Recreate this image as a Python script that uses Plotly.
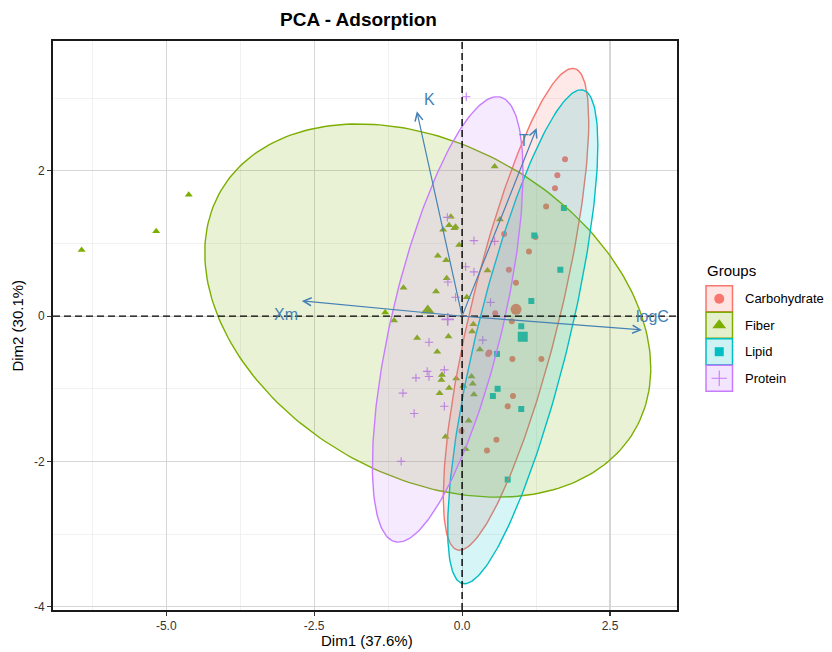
import numpy as np
import plotly.graph_objects as go

# ---------------- data ----------------
groups = ["Carbohydrate", "Fiber", "Lipid", "Protein"]
group_colors = ["#F8766D", "#7CAE00", "#00BFC4", "#C77CFF"]
group_symbols = ["circle", "triangle-up", "square", "cross-thin"]

carb_x = [1.74, 1.61, 1.57, 1.42, 0.71, 1.24, 1.13, 0.79, 0.91, 0.56, 0.84, 0.46, 0.44,
          0.85, 1.34, 0.86, 0.77, 0.58, 0.42, -0.01]
carb_y = [2.16, 1.94, 1.76, 1.51, 1.13, 1.09, 0.89, 0.64, 0.46, 0.04, -0.07, -0.50, -0.52,
          -0.59, -0.59, -1.10, -1.24, -1.70, -1.85, -1.58]

fiber_x = [-6.43, -5.17, -4.62, 0.55, -0.19, -0.22, -0.11, -0.13, -0.32, -0.05, -0.41, -0.27,
           -0.26, 0.64, 0.43, -0.99, -0.44, 0.08, -1.30, -1.15, 0.19, 0.17, -0.23, -0.76,
           -0.42, 0.30, -0.34, -0.35, -0.10, -0.22, -0.38, 0.16, 0.18, 0.02, 0.20, 0.11,
           -0.28, 0.06]
fiber_y = [0.91, 1.17, 1.67, 2.06, 1.37, 1.25, 1.23, 1.21, 1.19, 0.98, 0.83, 0.77,
           0.52, 1.33, 0.63, 0.39, 0.34, 0.26, 0.05, -0.06, -0.11, -0.21, -0.28, -0.30,
           -0.49, -0.46, -0.81, -0.88, -0.86, -0.99, -1.06, -0.83, -0.93, -0.96, -1.08, -1.44,
           -1.66, -1.83]

lipid_x = [1.72, 1.22, 1.66, 1.17, 1.00, 0.59, 0.60, 0.52, 1.00, 0.77]
lipid_y = [1.49, 1.11, 0.64, 0.21, -0.14, -0.52, -1.00, -1.10, -1.28, -2.25]

protein_x = [0.07, -0.25, 0.20, 0.55, 0.06, 0.20, -0.24, -0.11, 0.48, -0.56, 0.35, -0.59,
             -0.56, -0.78, -0.30, -1.00, -0.30, -0.81, -1.03]
protein_y = [3.02, 1.36, 1.04, 1.03, 0.68, 0.61, 0.47, 0.26, 0.19, -0.36, -0.33, -0.76,
             -0.83, -0.85, -0.74, -1.06, -1.24, -1.34, -2.00]

# concentration-ellipse covariance terms (already scaled to the 95% level)
ellipse_sxx = [1.51, 14.2, 1.61, 1.62]
ellipse_syy = [11.0, 6.6, 11.56, 9.4]
ellipse_sxy = [3.17, -3.0, 3.35, 2.56]

# variable arrows (biplot loadings, scaled)
var_names = ["K", "T", "Xm", "logC"]
var_x = [-0.765, 1.26, -2.71, 3.04]
var_y = [2.82, 2.59, 0.21, -0.19]
var_label_x = [-0.55, 1.04, -2.97, 3.21]
var_label_y = [2.98, 2.42, 0.02, 0.0]

x_tickvals = [-5.0, -2.5, 0.0, 2.5]
x_ticktext = ["-5.0", "-2.5", "0.0", "2.5"]
y_tickvals = [-4, -2, 0, 2]
y_ticktext = ["-4", "-2", "0", "2"]

title_text = "PCA - Adsorption"
x_title = "Dim1 (37.6%)"
y_title = "Dim2 (30.1%)"
legend_title = "Groups"

xs = [carb_x, fiber_x, lipid_x, protein_x]
ys = [carb_y, fiber_y, lipid_y, protein_y]

# ---------------- layout helpers ----------------
W, H = 832, 652
ML, MR, MT, MB = 53, 0, 41, 42
PW, PH = W - ML - MR, H - MT - MB
PANEL_RIGHT = 676.7


def px(xp):
    return (xp - ML) / PW


def py(yp):
    return (H - MB - yp) / PH


def rgba(hexc, a):
    h = hexc.lstrip("#")
    r, g, b = int(h[0:2], 16), int(h[2:4], 16), int(h[4:6], 16)
    return f"rgba({r},{g},{b},{a})"


FONT = "Liberation Sans, Arial, sans-serif"
ARROW_COL = "#4682B4"

fig = go.Figure()

pt_sizes = [6, 7, 6, 6]
mean_sizes = [11, 12, 10, 9]

# points (under ellipse fills)
for g, c, s, x, y, ps in zip(groups, group_colors, group_symbols, xs, ys, pt_sizes):
    lw = 1.1 if s == "cross-thin" else 0
    fig.add_trace(go.Scatter(
        x=x, y=y, mode="markers", name=g, showlegend=False,
        marker=dict(symbol=s, size=ps, color=c, line=dict(width=lw, color=c)),
        hoverinfo="skip"))

# group means
for g, c, s, x, y, ms in zip(groups, group_colors, group_symbols, xs, ys, mean_sizes):
    lw = 1.6 if s == "cross-thin" else 0
    fig.add_trace(go.Scatter(
        x=[float(np.mean(x))], y=[float(np.mean(y))], mode="markers", showlegend=False,
        marker=dict(symbol=s, size=ms, color=c, line=dict(width=lw, color=c)),
        hoverinfo="skip"))

# ellipses
t = np.linspace(0, 2 * np.pi, 240)
for g, c, x, y, sxx, syy, sxy in zip(groups, group_colors, xs, ys,
                                      ellipse_sxx, ellipse_syy, ellipse_sxy):
    cov = np.array([[sxx, sxy], [sxy, syy]])
    L = np.linalg.cholesky(cov)
    pts = L @ np.vstack([np.cos(t), np.sin(t)])
    ex = pts[0] + np.mean(x)
    ey = pts[1] + np.mean(y)
    fig.add_trace(go.Scatter(
        x=ex, y=ey, mode="lines", fill="toself", showlegend=False,
        fillcolor=rgba(c, 0.16), line=dict(color=c, width=1.4), hoverinfo="skip"))

# variable arrows
annotations = []
for n, vx, vy, lx, ly in zip(var_names, var_x, var_y, var_label_x, var_label_y):
    annotations.append(dict(
        x=vx, y=vy, ax=0, ay=0, xref="x", yref="y", axref="x", ayref="y",
        text="", showarrow=True, arrowhead=5, arrowsize=1.3, arrowwidth=1.2,
        arrowcolor=ARROW_COL, standoff=0, startstandoff=0))
    annotations.append(dict(
        x=lx, y=ly, xref="x", yref="y", text=n, showarrow=False,
        font=dict(family=FONT, size=16, color=ARROW_COL),
        xanchor="center", yanchor="middle"))

# title and axis titles
annotations.append(dict(x=px(358), y=py(20), xref="paper", yref="paper", text=f"<b>{title_text}</b>",
                        showarrow=False, font=dict(family=FONT, size=19, color="black"),
                        xanchor="center", yanchor="middle"))
annotations.append(dict(x=px(367), y=py(640), xref="paper", yref="paper", text=x_title,
                        showarrow=False, font=dict(family=FONT, size=15, color="black"),
                        xanchor="center", yanchor="middle"))
annotations.append(dict(x=px(18), y=py(325.6), xref="paper", yref="paper", text=y_title,
                        showarrow=False, textangle=-90,
                        font=dict(family=FONT, size=15, color="black"),
                        xanchor="center", yanchor="middle"))

# manual legend
annotations.append(dict(x=px(705), y=py(270), xref="paper", yref="paper", text=legend_title,
                        showarrow=False, font=dict(family=FONT, size=15, color="black"),
                        xanchor="left", yanchor="middle"))
shapes = []
box_x0, box_x1 = 706, 732.5
leg_marker_sizes = [10, 12, 9, 11]
leg_x, leg_y = [], []
for i, (g, c) in enumerate(zip(groups, group_colors)):
    top = 285.7 + i * 26.5
    bot = top + 26
    shapes.append(dict(type="rect", xref="paper", yref="paper",
                       x0=px(box_x0), x1=px(box_x1), y0=py(bot), y1=py(top),
                       fillcolor=rgba(c, 0.2), line=dict(color=c, width=1.5), layer="above"))
    annotations.append(dict(x=px(743), y=py((top + bot) / 2), xref="paper", yref="paper",
                            text=g, showarrow=False,
                            font=dict(family=FONT, size=13, color="black"),
                            xanchor="left", yanchor="middle"))
    leg_x.append(px((box_x0 + box_x1) / 2))
    leg_y.append(py((top + bot) / 2))

for i, (c, s, ms) in enumerate(zip(group_colors, group_symbols, leg_marker_sizes)):
    lw = 1.1 if s == "cross-thin" else 0
    fig.add_trace(go.Scatter(
        x=[leg_x[i]], y=[leg_y[i]], xaxis="x2", yaxis="y2", mode="markers",
        showlegend=False, hoverinfo="skip",
        marker=dict(symbol=s, size=ms, color=c, line=dict(width=lw, color=c))))

# dashed reference lines
shapes.append(dict(type="line", xref="x", yref="y domain", x0=0, x1=0, y0=0, y1=1,
                   line=dict(color="black", width=1.4, dash="7px,4px"), layer="above"))
shapes.append(dict(type="line", xref="x domain", yref="y", x0=0, x1=1, y0=0, y1=0,
                   line=dict(color="black", width=1.4, dash="7px,4px"), layer="above"))

x_range = [(52.7 - 462) / 59.2, (PANEL_RIGHT - 462) / 59.2]
y_range = [(316.3 - 610) / 72.6, (316.3 - 41.3) / 72.6]

axis_common = dict(
    showline=True, linecolor="#1a1a1a", linewidth=2, mirror=True,
    ticks="outside", ticklen=4, tickwidth=1.2, tickcolor="#333333",
    tickfont=dict(family=FONT, size=12, color="#333333"),
    showgrid=True, gridcolor="#d6d6d6", gridwidth=1.1, zeroline=False,
)

fig.update_layout(
    width=W, height=H,
    margin=dict(l=ML, r=MR, t=MT, b=MB, autoexpand=False),
    paper_bgcolor="white", plot_bgcolor="rgba(0,0,0,0)",
    showlegend=False,
    xaxis=dict(domain=[0, px(PANEL_RIGHT)], range=x_range, tickvals=x_tickvals,
               ticktext=x_ticktext,
               minor=dict(dtick=1.25, tick0=0, showgrid=True, gridcolor="#eeeeee",
                          gridwidth=0.8, ticks=""),
               **axis_common),
    yaxis=dict(domain=[0, 1], range=y_range, tickvals=y_tickvals, ticktext=y_ticktext,
               minor=dict(dtick=1, tick0=0, showgrid=True, gridcolor="#eeeeee",
                          gridwidth=0.8, ticks=""),
               **axis_common),
    xaxis2=dict(domain=[0, 1], range=[0, 1], visible=False, anchor="y2", fixedrange=True),
    yaxis2=dict(domain=[0, 1], range=[0, 1], visible=False, anchor="x2", fixedrange=True),
    annotations=annotations,
    shapes=shapes,
)

html = fig.to_html(include_plotlyjs=True, full_html=True,
                   config={"displayModeBar": False, "staticPlot": True})
html = html.replace("<head>", "<head><style>html,body{margin:0;padding:0;overflow:hidden;}</style>", 1)
with open("out.html", "w", encoding="utf-8") as f:
    f.write(html)
